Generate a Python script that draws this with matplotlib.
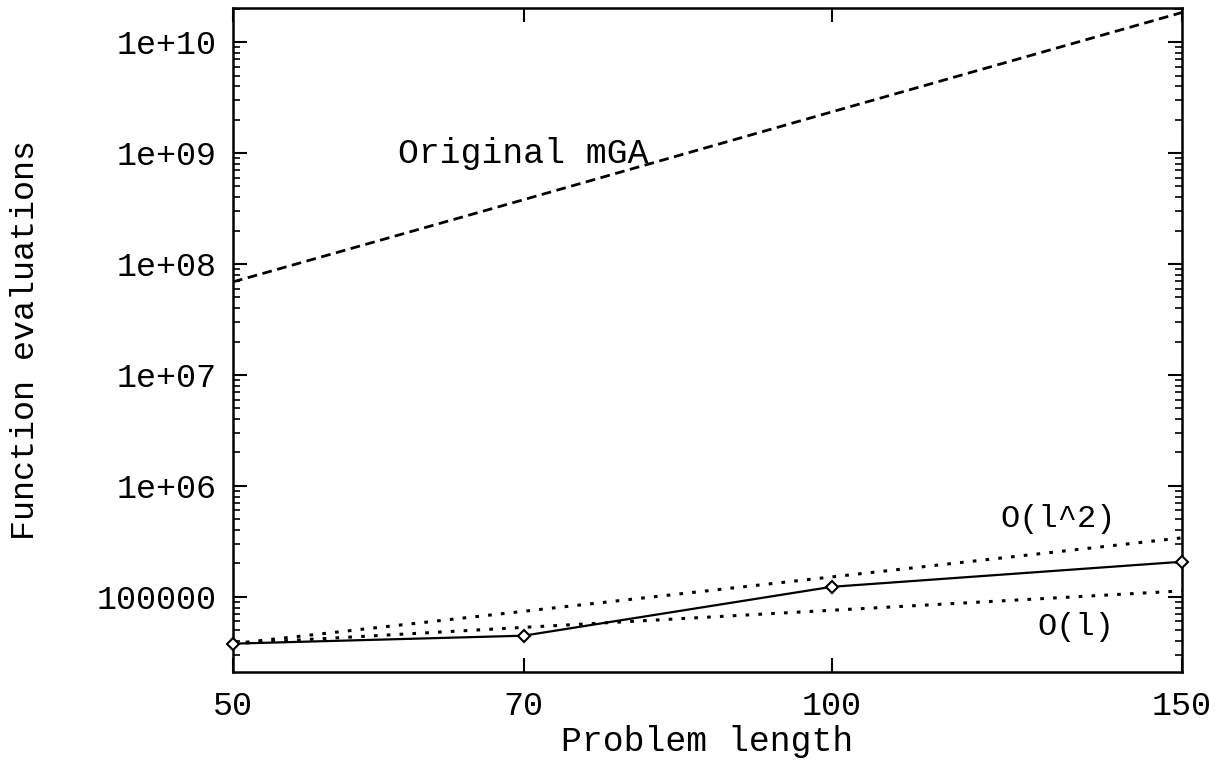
import matplotlib
matplotlib.use('Agg')
import matplotlib.pyplot as plt
from matplotlib.ticker import FixedLocator, NullLocator, LogLocator

# data
lengths = [50, 70, 100, 150]
mga_orig = [6.9e7, 3.8e8, 2.35e9, 1.85e10]   # Original mGA (dashed)
measured = [3.78e4, 4.46e4, 1.23e5, 2.07e5]  # solid, diamonds
order_l2 = [3.78e4, 7.4e4, 1.51e5, 3.4e5]    # O(l^2) guide
order_l = [3.78e4, 5.3e4, 7.56e4, 1.13e5]    # O(l) guide

xticks = [50, 70, 100, 150]
xticklabels = ['50', '70', '100', '150']
yticks = [1e5, 1e6, 1e7, 1e8, 1e9, 1e10]
yticklabels = ['100000', '1e+06', '1e+07', '1e+08', '1e+09', '1e+10']

plt.rcParams['font.family'] = ['Liberation Mono', 'DejaVu Sans Mono']
plt.rcParams['font.size'] = 24

fig = plt.figure(figsize=(12.18, 7.65), dpi=100)
ax = fig.add_axes([0.1913, 0.1216, 0.9704 - 0.1913, 0.9895 - 0.1216])

ax.plot(lengths, mga_orig, color='black', lw=2.0, linestyle=(0, (3.5, 2)))
ax.plot(lengths, order_l2, color='black', lw=2.2, linestyle=(0, (1.2, 3)))
ax.plot(lengths, order_l, color='black', lw=2.2, linestyle=(0, (1.2, 3)))
ax.plot(lengths, measured, color='black', lw=1.6, marker='D', ms=6,
        mfc='white', mec='black', mew=1.5, clip_on=False, zorder=5)

ax.set_xscale('log')
ax.set_yscale('log')
ax.set_xlim(50, 150)
ax.set_ylim(2.1e4, 2.03e10)

ax.xaxis.set_major_locator(FixedLocator(xticks))
ax.set_xticklabels(xticklabels)
ax.xaxis.set_minor_locator(NullLocator())
ax.yaxis.set_major_locator(FixedLocator(yticks))
ax.set_yticklabels(yticklabels)
ax.yaxis.set_minor_locator(LogLocator(base=10, subs=range(2, 10), numticks=20))

ax.tick_params(which='major', direction='in', length=10, width=1.5,
               top=True, right=True, pad=12)
ax.tick_params(which='minor', direction='in', length=5, width=1.2,
               top=True, right=True)
ax.tick_params(axis='x', which='major', pad=14)

for s in ax.spines.values():
    s.set_linewidth(1.8)

ax.set_xlabel('Problem length', fontsize=25, labelpad=2)
ax.set_ylabel('Function evaluations', fontsize=24, labelpad=40)

ax.text(60.5, 1e9, 'Original mGA', ha='left', va='center', fontsize=25)
ax.text(121.6, 5.05e5, 'O(l^2)', ha='left', va='center', fontsize=23)
ax.text(126.9, 5.37e4, 'O(l)', ha='left', va='center', fontsize=23)

fig.savefig('out.png', dpi=100)
